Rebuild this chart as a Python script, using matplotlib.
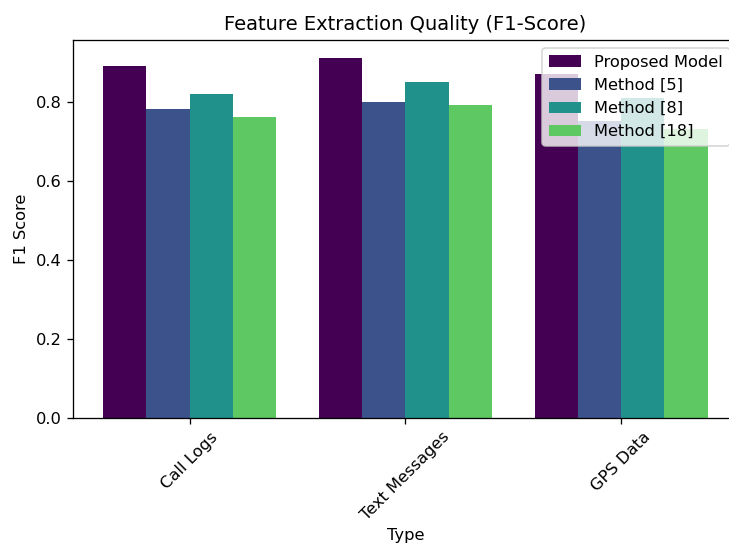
import numpy as np
import matplotlib.pyplot as plt

types = ["Call Logs", "Text Messages", "GPS Data"]
methods = ["Proposed Model", "Method [5]", "Method [8]", "Method [18]"]
proposed = [0.89, 0.91, 0.87]
method_5 = [0.78, 0.80, 0.75]
method_8 = [0.82, 0.85, 0.81]
method_18 = [0.76, 0.79, 0.73]
scores = [proposed, method_5, method_8, method_18]

colors = plt.cm.viridis(np.linspace(0, 1, 5))
x = np.arange(len(types))
width = 0.2

dpi = 117
fig = plt.figure(figsize=(729 / dpi, 549 / dpi), dpi=dpi)
# original image is cropped on the right, so the axes runs past the figure edge
ax = fig.add_axes([0.1001, 0.2386, 0.912, 0.6885])
for i, (name, vals) in enumerate(zip(methods, scores)):
    ax.bar(x + (i - 1.5) * width, vals, width, label=name, color=colors[i])

ax.set_xticks(x)
ax.set_xticklabels(types, rotation=45)
ax.set_title("Feature Extraction Quality (F1-Score)")
ax.set_ylabel("F1 Score")
ax.set_xlabel("Type", labelpad=3)
ax.legend(loc="upper right")
fig.savefig("out.png", dpi=dpi)
